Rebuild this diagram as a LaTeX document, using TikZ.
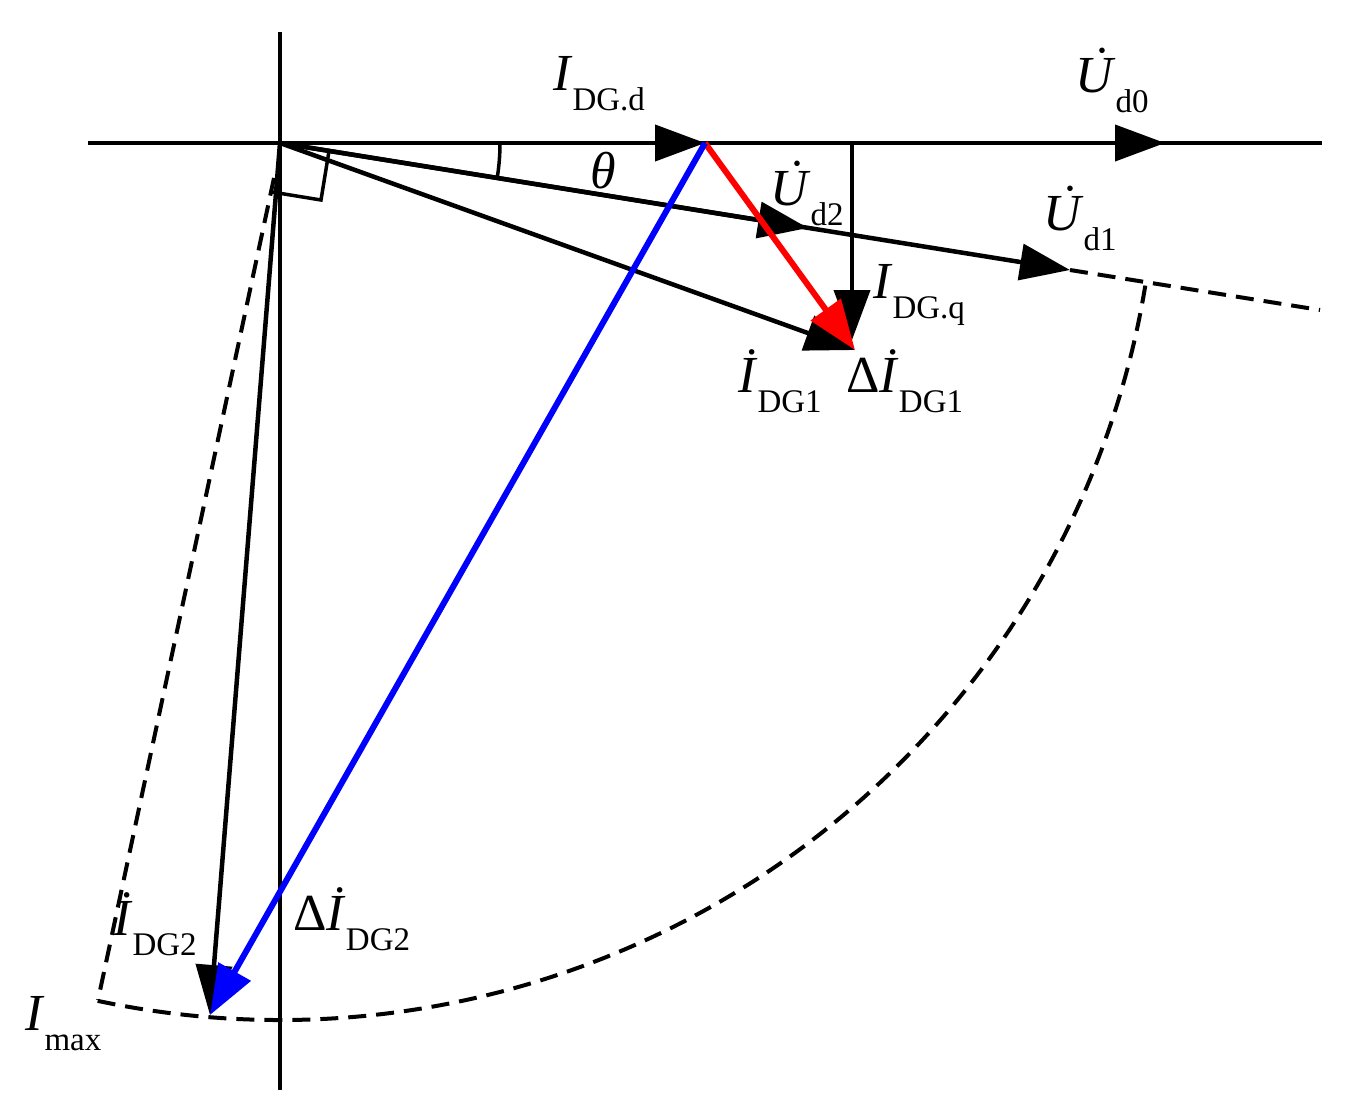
\documentclass[tikz,border=0pt]{standalone}
\usepackage{fontspec}
\setmainfont{Liberation Serif}
\usetikzlibrary{arrows.meta}
\newcommand\lbl[2]{\textit{#1}\raisebox{-0.4em}{\fontsize{33}{35}\selectfont #2}}
\newcommand\Udot{\rlap{\kern0.3em\raisebox{0.18em}{\textit{˙}}}U}
\tikzset{
  big/.style={-{Triangle[length=50pt,width=36pt]}},
  vec/.style={line width=4.5pt,big},
  dsh/.style={line width=4pt,dash pattern=on 18pt off 10pt},
  lab/.style={font=\fontsize{52}{54}\selectfont,inner sep=0pt,anchor=base west}
}
\begin{document}
\begin{tikzpicture}[x=1pt,y=-1pt]
\useasboundingbox (0,0) rectangle (1359,1119);
\coordinate (O) at (280,143);
\coordinate (hl) at (88,143);
\coordinate (hr) at (1322,143);
\coordinate (vt) at (280,32);
\coordinate (vb) at (280,1090);
\coordinate (Id) at (705,143);
\coordinate (U0) at (1165,143);
\coordinate (U2) at (808,228);
\coordinate (U1) at (1070,270);
\coordinate (Uend) at (1320,310);
\coordinate (I1) at (855,350);
\coordinate (qtop) at (852,143);
\coordinate (qbot) at (852,340);
\coordinate (I2) at (210,1015);
\coordinate (ds) at (274,178);
\coordinate (de) at (98,1000);
\draw[line width=4pt] (hl) -- (hr);
\draw[line width=4pt] (vt) -- (vb);
\draw[line width=4pt,big] (O) -- (U0);
\draw[line width=4pt,big] (O) -- (Id);
\draw[vec] (O) -- (U1);
\draw[vec] (O) -- (U2);
\draw[dsh] (U1) -- (Uend);
\draw[vec] (O) -- (I1);
\draw[line width=3.5pt] (329,151) -- (321,200) -- (272,192);
\draw[line width=3.5pt] (500,143) arc[start angle=0,end angle=9.2,radius=220];
\draw[line width=4pt,big] (qtop) -- (qbot);
\draw[red,line width=6pt,big] (Id) -- (I1);
\draw[vec] (O) -- (I2);
\draw[blue,line width=6pt,big] (Id) -- (I2);
\draw[dsh] (ds) -- (de);
\draw[dsh] (O) ++(102:877) arc[start angle=102,end angle=9.3,radius=877];
\node[lab] (l1) at (553,90) {\lbl{I}{DG.d}};
\node[lab] (l2) at (1075,92) {\lbl{\Udot}{d0}};
\node[lab] (l3) at (590,188) {\textit{θ}};
\node[lab] (l4) at (770,205) {\lbl{\Udot}{d2}};
\node[lab] (l5) at (1043,230) {\lbl{\Udot}{d1}};
\node[lab] (l6) at (873,298) {\lbl{I}{DG.q}};
\node[lab] (l7) at (738,392) {\lbl{İ}{DG1}};
\node[lab] (l8) at (846,392) {Δ\lbl{İ}{DG1}};
\node[lab] (l9) at (113,935) {\lbl{İ}{DG2}};
\node[lab] (l10) at (293,930) {Δ\lbl{İ}{DG2}};
\node[lab] (l11) at (25,1030) {\lbl{I}{max}};
\end{tikzpicture}
\end{document}
